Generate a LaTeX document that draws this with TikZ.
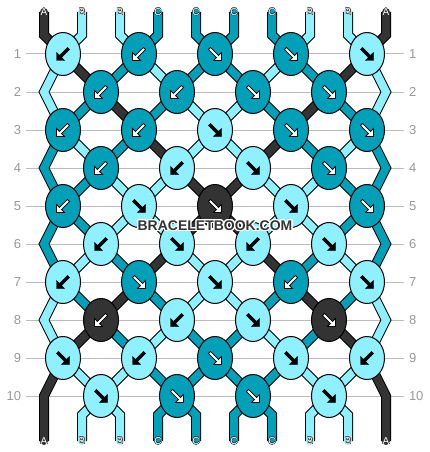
\documentclass[tikz,border=0pt]{standalone}
\usepackage{fontspec}
\setmainfont{Liberation Sans}
\usepackage{xcolor}
\usepackage{tikz}
\usepackage{contour}
\usetikzlibrary{shapes.geometric,backgrounds}
\contourlength{0.3pt}

\definecolor{cA}{HTML}{333333}
\definecolor{cB}{HTML}{8FF0FF}
\definecolor{cC}{HTML}{00A1B8}
\definecolor{numgray}{HTML}{999999}
\definecolor{linegray}{HTML}{BBBBBB}

\tikzset{
  thr/.style={draw=#1, line width=8pt, line cap=round, preaction={draw=black, line width=10pt}},
  knot/.style={ellipse, draw=black, line width=1pt, fill=#1, minimum width=35pt, minimum height=43pt, inner sep=0pt},
  arrL/.style={fill=black, draw=black, line width=0.4pt},
  arrD/.style={fill=white, draw=black, line width=0.8pt},
  num/.style={text=numgray, font=\fontsize{13}{13}\selectfont, inner xsep=5pt, inner ysep=0pt, outer sep=0pt},
  tag/.style={text=white, font=\fontsize{10}{10}\selectfont, inner sep=0pt},
  wmark/.style={text=cA, font=\bfseries\fontsize{14}{14}\selectfont, inner sep=0pt},
  rowline/.style={draw=linegray, line width=1pt},
  fwd/.pic={\filldraw (-6.56,-4.44) -- (-4.44,-6.56) -- (3.56,1.44) -- (6.5,-1.5) -- (6.5,6.5) -- (-1.5,6.5) -- (1.44,3.56) -- cycle;},
  bwd/.pic={\filldraw (6.56,-4.44) -- (4.44,-6.56) -- (-3.56,1.44) -- (-6.5,-1.5) -- (-6.5,6.5) -- (1.5,6.5) -- (-1.44,3.56) -- cycle;}
}

\begin{document}
\begin{tikzpicture}[x=1pt,y=-1pt]
\useasboundingbox (0,0) rectangle (430,452);

% row numbers
\node[num,anchor=east] (l1) at (26,54) {1};
\node[num,anchor=west] (r1) at (404,54) {1};
\node[num,anchor=east] (l2) at (26,92) {2};
\node[num,anchor=west] (r2) at (404,92) {2};
\node[num,anchor=east] (l3) at (26,130) {3};
\node[num,anchor=west] (r3) at (404,130) {3};
\node[num,anchor=east] (l4) at (26,168) {4};
\node[num,anchor=west] (r4) at (404,168) {4};
\node[num,anchor=east] (l5) at (26,206) {5};
\node[num,anchor=west] (r5) at (404,206) {5};
\node[num,anchor=east] (l6) at (26,244) {6};
\node[num,anchor=west] (r6) at (404,244) {6};
\node[num,anchor=east] (l7) at (26,282) {7};
\node[num,anchor=west] (r7) at (404,282) {7};
\node[num,anchor=east] (l8) at (26,320) {8};
\node[num,anchor=west] (r8) at (404,320) {8};
\node[num,anchor=east] (l9) at (26,358) {9};
\node[num,anchor=west] (r9) at (404,358) {9};
\node[num,anchor=east] (l10) at (26,396) {10};
\node[num,anchor=west] (r10) at (404,396) {10};

% knots
\node[knot=cB] (k1-1) at (63,54) {};   \pic[arrL] at (k1-1) {bwd};
\node[knot=cC] (k1-2) at (139,54) {};  \pic[arrD] at (k1-2) {bwd};
\node[knot=cC] (k1-3) at (215,54) {};  \pic[arrD] at (k1-3) {fwd};
\node[knot=cC] (k1-4) at (291,54) {};  \pic[arrD] at (k1-4) {fwd};
\node[knot=cB] (k1-5) at (367,54) {};  \pic[arrL] at (k1-5) {fwd};

\node[knot=cC] (k2-1) at (101,92) {};  \pic[arrD] at (k2-1) {bwd};
\node[knot=cC] (k2-2) at (177,92) {};  \pic[arrD] at (k2-2) {bwd};
\node[knot=cC] (k2-3) at (253,92) {};  \pic[arrD] at (k2-3) {fwd};
\node[knot=cC] (k2-4) at (329,92) {};  \pic[arrD] at (k2-4) {fwd};

\node[knot=cC] (k3-1) at (63,130) {};  \pic[arrD] at (k3-1) {bwd};
\node[knot=cC] (k3-2) at (139,130) {}; \pic[arrD] at (k3-2) {bwd};
\node[knot=cB] (k3-3) at (215,130) {}; \pic[arrL] at (k3-3) {fwd};
\node[knot=cC] (k3-4) at (291,130) {}; \pic[arrD] at (k3-4) {fwd};
\node[knot=cC] (k3-5) at (367,130) {}; \pic[arrD] at (k3-5) {fwd};

\node[knot=cC] (k4-1) at (101,168) {}; \pic[arrD] at (k4-1) {bwd};
\node[knot=cB] (k4-2) at (177,168) {}; \pic[arrL] at (k4-2) {bwd};
\node[knot=cB] (k4-3) at (253,168) {}; \pic[arrL] at (k4-3) {fwd};
\node[knot=cC] (k4-4) at (329,168) {}; \pic[arrD] at (k4-4) {fwd};

\node[knot=cC] (k5-1) at (63,206) {};  \pic[arrD] at (k5-1) {bwd};
\node[knot=cB] (k5-2) at (139,206) {}; \pic[arrL] at (k5-2) {fwd};
\node[knot=cA] (k5-3) at (215,206) {}; \pic[arrD] at (k5-3) {fwd};
\node[knot=cB] (k5-4) at (291,206) {}; \pic[arrL] at (k5-4) {fwd};
\node[knot=cC] (k5-5) at (367,206) {}; \pic[arrD] at (k5-5) {fwd};

\node[knot=cB] (k6-1) at (101,244) {}; \pic[arrL] at (k6-1) {bwd};
\node[knot=cB] (k6-2) at (177,244) {}; \pic[arrL] at (k6-2) {fwd};
\node[knot=cB] (k6-3) at (253,244) {}; \pic[arrL] at (k6-3) {bwd};
\node[knot=cB] (k6-4) at (329,244) {}; \pic[arrL] at (k6-4) {fwd};

\node[knot=cB] (k7-1) at (63,282) {};  \pic[arrL] at (k7-1) {bwd};
\node[knot=cC] (k7-2) at (139,282) {}; \pic[arrD] at (k7-2) {fwd};
\node[knot=cB] (k7-3) at (215,282) {}; \pic[arrL] at (k7-3) {fwd};
\node[knot=cC] (k7-4) at (291,282) {}; \pic[arrD] at (k7-4) {bwd};
\node[knot=cB] (k7-5) at (367,282) {}; \pic[arrL] at (k7-5) {fwd};

\node[knot=cA] (k8-1) at (101,320) {}; \pic[arrD] at (k8-1) {bwd};
\node[knot=cB] (k8-2) at (177,320) {}; \pic[arrL] at (k8-2) {bwd};
\node[knot=cB] (k8-3) at (253,320) {}; \pic[arrL] at (k8-3) {fwd};
\node[knot=cA] (k8-4) at (329,320) {}; \pic[arrD] at (k8-4) {fwd};

\node[knot=cB] (k9-1) at (63,358) {};  \pic[arrL] at (k9-1) {fwd};
\node[knot=cB] (k9-2) at (139,358) {}; \pic[arrL] at (k9-2) {bwd};
\node[knot=cC] (k9-3) at (215,358) {}; \pic[arrD] at (k9-3) {fwd};
\node[knot=cB] (k9-4) at (291,358) {}; \pic[arrL] at (k9-4) {fwd};
\node[knot=cB] (k9-5) at (367,358) {}; \pic[arrL] at (k9-5) {bwd};

\node[knot=cB] (k10-1) at (101,396) {}; \pic[arrL] at (k10-1) {fwd};
\node[knot=cC] (k10-2) at (177,396) {}; \pic[arrD] at (k10-2) {fwd};
\node[knot=cC] (k10-3) at (253,396) {}; \pic[arrD] at (k10-3) {fwd};
\node[knot=cB] (k10-4) at (329,396) {}; \pic[arrL] at (k10-4) {fwd};

% string letters
\node[tag] (ta1) at (44,12) {\contour{cA}{A}};
\node[tag] (ta2) at (82,12) {\contour{cA}{B}};
\node[tag] (ta3) at (120,12) {\contour{cA}{B}};
\node[tag] (ta4) at (158,12) {\contour{cA}{C}};
\node[tag] (ta5) at (196,12) {\contour{cA}{C}};
\node[tag] (ta6) at (234,12) {\contour{cA}{C}};
\node[tag] (ta7) at (272,12) {\contour{cA}{C}};
\node[tag] (ta8) at (310,12) {\contour{cA}{B}};
\node[tag] (ta9) at (348,12) {\contour{cA}{B}};
\node[tag] (ta10) at (386,12) {\contour{cA}{A}};
\node[tag] (ba1) at (44,441) {\contour{cA}{A}};
\node[tag] (ba2) at (82,441) {\contour{cA}{B}};
\node[tag] (ba3) at (120,441) {\contour{cA}{B}};
\node[tag] (ba4) at (158,441) {\contour{cA}{C}};
\node[tag] (ba5) at (196,441) {\contour{cA}{C}};
\node[tag] (ba6) at (234,441) {\contour{cA}{C}};
\node[tag] (ba7) at (272,441) {\contour{cA}{C}};
\node[tag] (ba8) at (310,441) {\contour{cA}{B}};
\node[tag] (ba9) at (348,441) {\contour{cA}{B}};
\node[tag] (ba10) at (386,441) {\contour{cA}{A}};

\node[wmark] (wm) at (215,226) {\contourlength{1.2pt}\contour{white}{BRACELETBOOK.COM}};

\begin{pgfonlayer}{background}
\fill[white] (0,0) rectangle (430,452);
\draw[rowline] (l1) -- (r1);
\draw[rowline] (l2) -- (r2);
\draw[rowline] (l3) -- (r3);
\draw[rowline] (l4) -- (r4);
\draw[rowline] (l5) -- (r5);
\draw[rowline] (l6) -- (r6);
\draw[rowline] (l7) -- (r7);
\draw[rowline] (l8) -- (r8);
\draw[rowline] (l9) -- (r9);
\draw[rowline] (l10) -- (r10);

% strings in from the top
\draw[thr=cA] (ta1.center) -- ++(0,23) -- (k1-1.center);
\draw[thr=cB] (ta2.center) -- ++(0,23) -- (k1-1.center);
\draw[thr=cB] (ta3.center) -- ++(0,23) -- (k1-2.center);
\draw[thr=cC] (ta4.center) -- ++(0,23) -- (k1-2.center);
\draw[thr=cC] (ta5.center) -- ++(0,23) -- (k1-3.center);
\draw[thr=cC] (ta6.center) -- ++(0,23) -- (k1-3.center);
\draw[thr=cC] (ta7.center) -- ++(0,23) -- (k1-4.center);
\draw[thr=cB] (ta8.center) -- ++(0,23) -- (k1-4.center);
\draw[thr=cB] (ta9.center) -- ++(0,23) -- (k1-5.center);
\draw[thr=cA] (ta10.center) -- ++(0,23) -- (k1-5.center);

% edge strings
\draw[thr=cB] (k1-1.center) -- ++(-19,38) -- (k3-1.center);
\draw[thr=cC] (k3-1.center) -- ++(-19,38) -- (k5-1.center);
\draw[thr=cC] (k5-1.center) -- ++(-19,38) -- (k7-1.center);
\draw[thr=cB] (k7-1.center) -- ++(-19,38) -- (k9-1.center);
\draw[thr=cB] (k1-5.center) -- ++(19,38) -- (k3-5.center);
\draw[thr=cC] (k3-5.center) -- ++(19,38) -- (k5-5.center);
\draw[thr=cC] (k5-5.center) -- ++(19,38) -- (k7-5.center);
\draw[thr=cB] (k7-5.center) -- ++(19,38) -- (k9-5.center);

% rows 1-2
\draw[thr=cA] (k1-1.center) -- (k2-1.center);
\draw[thr=cC] (k1-2.center) -- (k2-1.center);
\draw[thr=cB] (k1-2.center) -- (k2-2.center);
\draw[thr=cC] (k1-3.center) -- (k2-2.center);
\draw[thr=cC] (k1-3.center) -- (k2-3.center);
\draw[thr=cB] (k1-4.center) -- (k2-3.center);
\draw[thr=cC] (k1-4.center) -- (k2-4.center);
\draw[thr=cA] (k1-5.center) -- (k2-4.center);
% rows 2-3
\draw[thr=cC] (k2-1.center) -- (k3-1.center);
\draw[thr=cA] (k2-1.center) -- (k3-2.center);
\draw[thr=cC] (k2-2.center) -- (k3-2.center);
\draw[thr=cB] (k2-2.center) -- (k3-3.center);
\draw[thr=cB] (k2-3.center) -- (k3-3.center);
\draw[thr=cC] (k2-3.center) -- (k3-4.center);
\draw[thr=cA] (k2-4.center) -- (k3-4.center);
\draw[thr=cC] (k2-4.center) -- (k3-5.center);
% rows 3-4
\draw[thr=cB] (k3-1.center) -- (k4-1.center);
\draw[thr=cC] (k3-2.center) -- (k4-1.center);
\draw[thr=cA] (k3-2.center) -- (k4-2.center);
\draw[thr=cB] (k3-3.center) -- (k4-2.center);
\draw[thr=cB] (k3-3.center) -- (k4-3.center);
\draw[thr=cA] (k3-4.center) -- (k4-3.center);
\draw[thr=cC] (k3-4.center) -- (k4-4.center);
\draw[thr=cB] (k3-5.center) -- (k4-4.center);
% rows 4-5
\draw[thr=cC] (k4-1.center) -- (k5-1.center);
\draw[thr=cB] (k4-1.center) -- (k5-2.center);
\draw[thr=cB] (k4-2.center) -- (k5-2.center);
\draw[thr=cA] (k4-2.center) -- (k5-3.center);
\draw[thr=cA] (k4-3.center) -- (k5-3.center);
\draw[thr=cB] (k4-3.center) -- (k5-4.center);
\draw[thr=cB] (k4-4.center) -- (k5-4.center);
\draw[thr=cC] (k4-4.center) -- (k5-5.center);
% rows 5-6
\draw[thr=cC] (k5-1.center) -- (k6-1.center);
\draw[thr=cB] (k5-2.center) -- (k6-1.center);
\draw[thr=cB] (k5-2.center) -- (k6-2.center);
\draw[thr=cA] (k5-3.center) -- (k6-2.center);
\draw[thr=cA] (k5-3.center) -- (k6-3.center);
\draw[thr=cB] (k5-4.center) -- (k6-3.center);
\draw[thr=cB] (k5-4.center) -- (k6-4.center);
\draw[thr=cC] (k5-5.center) -- (k6-4.center);
% rows 6-7
\draw[thr=cB] (k6-1.center) -- (k7-1.center);
\draw[thr=cC] (k6-1.center) -- (k7-2.center);
\draw[thr=cA] (k6-2.center) -- (k7-2.center);
\draw[thr=cB] (k6-2.center) -- (k7-3.center);
\draw[thr=cB] (k6-3.center) -- (k7-3.center);
\draw[thr=cA] (k6-3.center) -- (k7-4.center);
\draw[thr=cC] (k6-4.center) -- (k7-4.center);
\draw[thr=cB] (k6-4.center) -- (k7-5.center);
% rows 7-8
\draw[thr=cC] (k7-1.center) -- (k8-1.center);
\draw[thr=cA] (k7-2.center) -- (k8-1.center);
\draw[thr=cC] (k7-2.center) -- (k8-2.center);
\draw[thr=cB] (k7-3.center) -- (k8-2.center);
\draw[thr=cB] (k7-3.center) -- (k8-3.center);
\draw[thr=cC] (k7-4.center) -- (k8-3.center);
\draw[thr=cA] (k7-4.center) -- (k8-4.center);
\draw[thr=cC] (k7-5.center) -- (k8-4.center);
% rows 8-9
\draw[thr=cA] (k8-1.center) -- (k9-1.center);
\draw[thr=cC] (k8-1.center) -- (k9-2.center);
\draw[thr=cB] (k8-2.center) -- (k9-2.center);
\draw[thr=cC] (k8-2.center) -- (k9-3.center);
\draw[thr=cC] (k8-3.center) -- (k9-3.center);
\draw[thr=cB] (k8-3.center) -- (k9-4.center);
\draw[thr=cC] (k8-4.center) -- (k9-4.center);
\draw[thr=cA] (k8-4.center) -- (k9-5.center);
% rows 9-10
\draw[thr=cB] (k9-1.center) -- (k10-1.center);
\draw[thr=cB] (k9-2.center) -- (k10-1.center);
\draw[thr=cC] (k9-2.center) -- (k10-2.center);
\draw[thr=cC] (k9-3.center) -- (k10-2.center);
\draw[thr=cC] (k9-3.center) -- (k10-3.center);
\draw[thr=cC] (k9-4.center) -- (k10-3.center);
\draw[thr=cB] (k9-4.center) -- (k10-4.center);
\draw[thr=cB] (k9-5.center) -- (k10-4.center);

% strings out at the bottom
\draw[thr=cA] (k9-1.center) -- ++(-19,38) -- (ba1.center);
\draw[thr=cB] (k10-1.center) -- ++(-19,19) -- (ba2.center);
\draw[thr=cB] (k10-1.center) -- ++(19,19) -- (ba3.center);
\draw[thr=cC] (k10-2.center) -- ++(-19,19) -- (ba4.center);
\draw[thr=cC] (k10-2.center) -- ++(19,19) -- (ba5.center);
\draw[thr=cC] (k10-3.center) -- ++(-19,19) -- (ba6.center);
\draw[thr=cC] (k10-3.center) -- ++(19,19) -- (ba7.center);
\draw[thr=cB] (k10-4.center) -- ++(-19,19) -- (ba8.center);
\draw[thr=cB] (k10-4.center) -- ++(19,19) -- (ba9.center);
\draw[thr=cA] (k9-5.center) -- ++(19,38) -- (ba10.center);
\end{pgfonlayer}
\end{tikzpicture}
\end{document}
